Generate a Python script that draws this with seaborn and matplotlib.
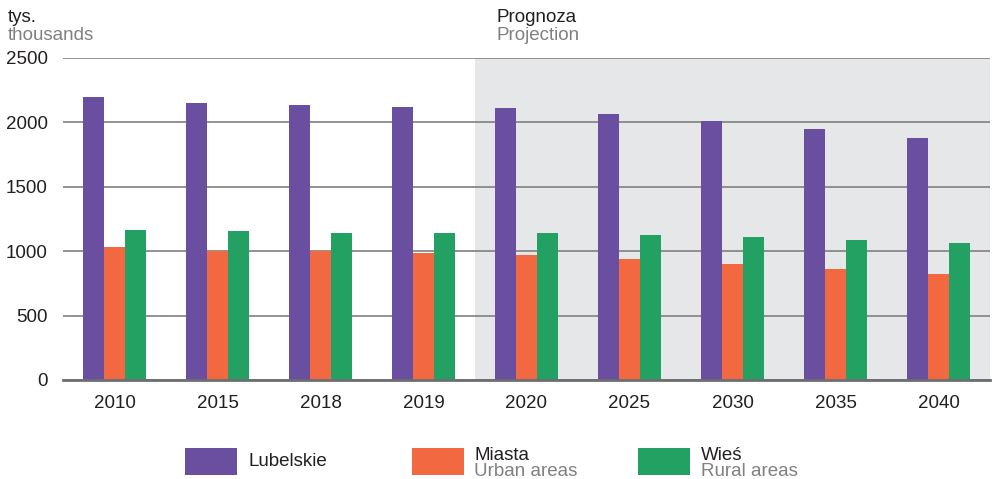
import pandas as pd
import matplotlib.pyplot as plt
import seaborn as sns
from matplotlib.patches import Rectangle

# dane (tys.)
years = ['2010', '2015', '2018', '2019', '2020', '2025', '2030', '2035', '2040']
lubelskie = [2194, 2147, 2132, 2116, 2109, 2062, 2008, 1946, 1876]
miasta = [1029, 998, 998, 983, 967, 936, 897, 858, 819]
wies = [1161, 1153, 1138, 1138, 1138, 1122, 1107, 1083, 1060]

series_pl = ['Lubelskie', 'Miasta', 'Wieś']
series_en = ['', 'Urban areas', 'Rural areas']
colors = ['#6a4fa0', '#f26841', '#22a163']

df = pd.DataFrame({
    'year': years * 3,
    'value': lubelskie + miasta + wies,
    'series': [s for s in series_pl for _ in years],
})

sns.set_theme(style='white')
plt.rcParams['font.family'] = ['Liberation Sans', 'DejaVu Sans']
FS = 13.5

fig = plt.figure(figsize=(9.93, 4.79), dpi=100)
ax = fig.add_axes([0.0634, 0.2067, 0.9336, 0.6723])

# tło prognozy
ax.axvspan(3.5, 8.5, color='#e6e7e9', zorder=0, lw=0)

sns.barplot(data=df, x='year', y='value', hue='series', order=years,
            hue_order=series_pl, palette=colors, width=0.61, saturation=1,
            linewidth=0, legend=False, ax=ax, zorder=3)

ax.set_xlim(-0.5, 8.5)
ax.set_ylim(0, 2500)
ax.set_yticks([0, 500, 1000, 1500, 2000, 2500])
ax.yaxis.grid(True, color='#808080', linewidth=1.2, zorder=1)
ax.set_axisbelow(True)
for s in ['top', 'right', 'left']:
    ax.spines[s].set_visible(False)
ax.spines['bottom'].set_color('#6d6e71')
ax.spines['bottom'].set_linewidth(2)
ax.spines['bottom'].set_zorder(4)
ax.tick_params(axis='y', length=0, pad=11, labelsize=FS, labelcolor='#231f20')
ax.tick_params(axis='x', length=0, pad=11, labelsize=FS, labelcolor='#231f20')
ax.set_xlabel('')
ax.set_ylabel('')

# opisy
fig.text(8 / 993, 1 - 18 / 479, 'tys.', fontsize=FS, color='#231f20', va='center')
fig.text(8 / 993, 1 - 36 / 479, 'thousands', fontsize=FS, color='#808080', va='center')
fig.text(497 / 993, 1 - 18 / 479, 'Prognoza', fontsize=FS, color='#231f20', va='center')
fig.text(497 / 993, 1 - 36 / 479, 'Projection', fontsize=FS, color='#808080', va='center')

# legenda
W, H = 993, 479
for i, (pl, en, c) in enumerate(zip(series_pl, series_en, colors)):
    x0 = 185 + i * 226.5
    fig.add_artist(Rectangle((x0 / W, 1 - 475 / H), 52 / W, 27 / H,
                             transform=fig.transFigure, color=c, lw=0))
    tx = (x0 + 63) / W
    if en:
        fig.text(tx, 1 - 455 / H, pl, fontsize=FS, color='#231f20', va='center')
        fig.text(tx, 1 - 471 / H, en, fontsize=FS, color='#808080', va='center')
    else:
        fig.text(tx, 1 - 462 / H, pl, fontsize=FS, color='#231f20', va='center')

fig.savefig('out.png', dpi=100)
